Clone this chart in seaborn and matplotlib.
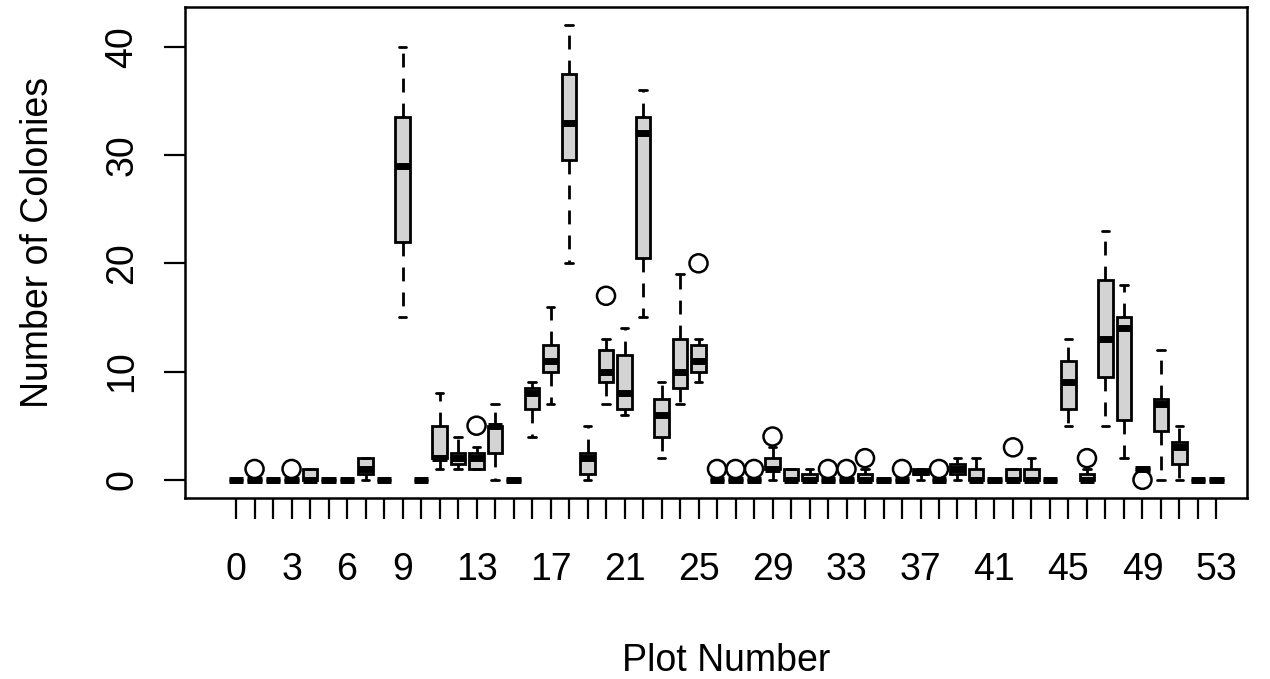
import matplotlib

matplotlib.use("Agg")
import matplotlib.pyplot as plt
import pandas as pd
import seaborn as sns


PLOTS = list(range(54))
# five-number summaries (whisker low, Q1, median, Q3, whisker high)
WHISK_LO = [0, 0, 0, 0, 0, 0, 0, 0, 0, 15, 0, 1, 1, 1, 0, 0, 4, 7, 20, 0, 7, 6, 15, 2, 7, 9,
            0, 0, 0, 0, 0, 0, 0, 0, 0, 0, 0, 0, 0, 0, 0, 0, 0, 0, 0, 5, 0, 5, 2, 1, 0, 0, 0, 0]
Q1 = [0, 0, 0, 0, 0, 0, 0, 0.5, 0, 22, 0, 2, 1.5, 1, 2.5, 0, 6.5, 10, 29.5, 0.5, 9, 6.5, 20.5, 4, 8.5, 10,
      0, 0, 0, 1, 0, 0, 0, 0, 0, 0, 0, 0.5, 0, 0.5, 0, 0, 0, 0, 0, 6.5, 0, 9.5, 5.5, 1, 4.5, 1.5, 0, 0]
MEDIAN = [0, 0, 0, 0, 0, 0, 0, 1, 0, 29, 0, 2, 2, 2, 5, 0, 8, 11, 33, 2, 10, 8, 32, 6, 10, 11,
          0, 0, 0, 1, 0, 0, 0, 0, 0, 0, 0, 0.75, 0, 1, 0, 0, 0, 0, 0, 9, 0, 13, 14, 1, 7, 3, 0, 0]
Q3 = [0, 0, 0, 0, 1, 0, 0, 2, 0, 33.5, 0, 5, 2.5, 2.5, 5, 0, 8.5, 12.5, 37.5, 2.5, 12, 11.5, 33.5, 7.5, 13, 12.5,
      0, 0, 0, 2, 1, 0.5, 0, 0, 0.5, 0, 0, 1, 0, 1.5, 1, 0, 1, 1, 0, 11, 0.5, 18.5, 15, 1, 7.5, 3.5, 0, 0]
WHISK_HI = [0, 0, 0, 0, 1, 0, 0, 2, 0, 40, 0, 8, 4, 3, 7, 0, 9, 16, 42, 5, 13, 14, 36, 9, 19, 13,
            0, 0, 0, 3, 1, 1, 0, 0, 1, 0, 0, 1, 0, 2, 2, 0, 1, 2, 0, 13, 1, 23, 18, 1, 12, 5, 0, 0]

OUTLIER_PLOT = [1, 3, 13, 20, 25, 26, 27, 28, 29, 32, 33, 34, 36, 38, 42, 46, 49]
OUTLIER_VALUE = [1, 1, 5, 17, 20, 1, 1, 1, 4, 1, 1, 2, 1, 1, 3, 2, 0]

SHOWN_X_LABELS = [0, 3, 6, 9, 13, 17, 21, 25, 29, 33, 37, 41, 45, 49, 53]
Y_TICKS = [0, 10, 20, 30, 40]

BOX_FILL = "#D3D3D3"
FONT_SIZE = 27


def box_frame() -> pd.DataFrame:
    # seven values per plot give exactly these quartiles and whisker ends
    rows = []
    for p, lo, q1, md, q3, hi in zip(PLOTS, WHISK_LO, Q1, MEDIAN, Q3, WHISK_HI):
        for v in (lo, q1, q1, md, q3, q3, hi):
            rows.append({"plot": p, "colonies": v})
    return pd.DataFrame(rows)


def main() -> None:
    sns.set_style("white")
    plt.rcParams["font.family"] = ["Liberation Sans", "DejaVu Sans"]
    plt.rcParams["text.color"] = "black"

    fig = plt.figure(figsize=(12.7, 6.79), dpi=100)
    ax = fig.add_axes([185 / 1270, 1 - 498 / 679, (1247 - 185) / 1270, (498 - 7) / 679])

    sns.boxplot(
        data=box_frame(), x="plot", y="colonies", order=PLOTS, ax=ax,
        whis=(0, 100), width=0.8, color=BOX_FILL, saturation=1,
        linecolor="black", linewidth=2, showfliers=False,
        medianprops=dict(linewidth=5, solid_capstyle="butt"),
        whiskerprops=dict(linestyle=(0, (5, 4))),
    )
    sns.stripplot(
        x=OUTLIER_PLOT, y=OUTLIER_VALUE, order=PLOTS, ax=ax, jitter=False,
        color="black", facecolors="none", edgecolor="black", linewidth=1.8,
        size=13, zorder=3,
    )

    ax.set_xlim(-2.76, 54.65)
    ax.set_ylim(-1.68, 43.68)
    ax.set_xticks(PLOTS)
    ax.set_xticklabels([str(p) if p in SHOWN_X_LABELS else "" for p in PLOTS])
    ax.set_yticks(Y_TICKS)
    ax.set_yticklabels([str(v) for v in Y_TICKS])
    ax.set_xlabel("")
    ax.set_ylabel("")

    for spine in ax.spines.values():
        spine.set_visible(True)
        spine.set_color("black")
        spine.set_linewidth(1.8)

    ax.tick_params(axis="both", direction="out", length=15, width=1.6,
                   bottom=True, left=True, color="black",
                   labelsize=FONT_SIZE, labelcolor="black")
    ax.tick_params(axis="x", pad=24)
    ax.tick_params(axis="y", pad=23)
    for lab in ax.get_yticklabels():
        lab.set(rotation=90, rotation_mode="anchor", ha="center", va="baseline")

    fig.text(726 / 1270, 1 - 671 / 679, "Plot Number", fontsize=FONT_SIZE,
             color="black", ha="center", va="baseline")
    fig.text(48 / 1270, 1 - 242 / 679, "Number of Colonies", fontsize=FONT_SIZE,
             color="black", rotation=90, rotation_mode="anchor",
             ha="center", va="baseline")

    fig.savefig("out.png", dpi=100)
    plt.close(fig)


if __name__ == "__main__":
    main()
